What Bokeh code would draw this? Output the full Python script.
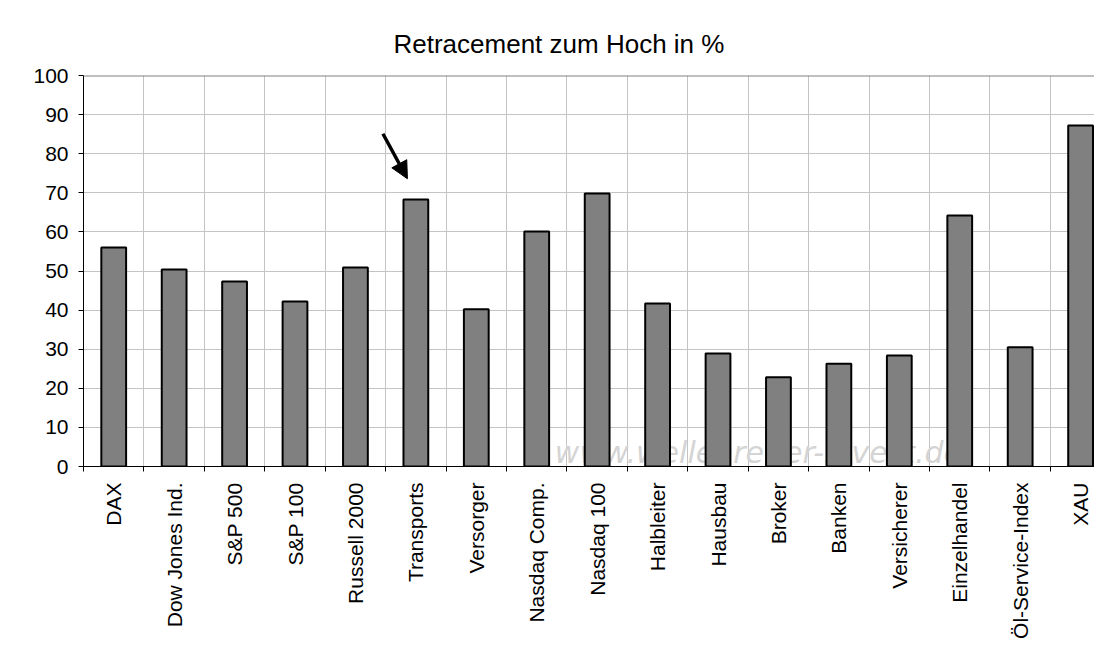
import math
from bokeh.plotting import figure
from bokeh.models import FixedTicker, Range1d, Arrow, NormalHead, Span
from bokeh.core.properties import value
from bokeh.embed import file_html
from bokeh.resources import INLINE

# ---- data ----
categories = ["DAX", "Dow Jones Ind.", "S&P 500", "S&P 100", "Russell 2000",
              "Transports", "Versorger", "Nasdaq Comp.", "Nasdaq 100", "Halbleiter",
              "Hausbau", "Broker", "Banken", "Versicherer", "Einzelhandel",
              "Öl-Service-Index", "XAU"]
values = [56.0, 50.4, 47.3, 42.2, 50.9, 68.3, 40.2, 60.1, 69.8, 41.7,
          28.9, 22.8, 26.3, 28.4, 64.2, 30.5, 87.2]
y_ticks = [0, 10, 20, 30, 40, 50, 60, 70, 80, 90, 100]
title_text = "Retracement zum Hoch in %"
watermark = "www.wellenreiter-invest.de"
highlight = "Transports"

FONT = "Liberation Sans"
n = len(categories)
xs = list(range(n))
boundaries = [i - 0.5 for i in range(n + 1)]

p = figure(width=1086, height=636, output_backend="svg", toolbar_location=None,
           x_range=Range1d(-0.5, 16.23), y_range=Range1d(0, 100),
           min_border_left=75, min_border_right=0, min_border_top=67,
           min_border_bottom=178)
p.styles = {"margin-left": "8px", "margin-top": "8px"}

p.title.text = title_text
p.title.align = "left"
p.title.offset = 310
p.title.standoff = 33
p.title.text_font = FONT
p.title.text_font_size = "26px"
p.title.text_font_style = "normal"
p.title.text_color = "black"

p.outline_line_color = None
p.background_fill_color = "white"
p.border_fill_color = "white"

# grids
p.xgrid.ticker = FixedTicker(ticks=boundaries)
p.ygrid.ticker = FixedTicker(ticks=y_ticks)
p.grid.grid_line_color = "#c4c4c4"
p.grid.grid_line_width = 1

# top edge of plot area
p.add_layout(Span(location=y_ticks[-1], dimension="width", line_color="#808080",
                  line_width=2))

# watermark (behind bars)
p.text(x=[7.3], y=[3.6], text=[watermark], text_font=value("DejaVu Sans"),
       text_font_style="italic", text_font_size="30px", text_color="#d4d4d4",
       text_baseline="alphabetic")

# bars
p.vbar(x=xs, top=values, width=0.41, bottom=0, fill_color="#808080",
       line_color="black", line_width=2)

# arrow pointing at highlighted bar
hi = categories.index(highlight)
hv = values[hi]
p.add_layout(Arrow(end=NormalHead(size=17, fill_color="black", line_color="black"),
                   x_start=hi - 0.545, y_start=hv + 16.8,
                   x_end=hi - 0.14, y_end=hv + 5.3,
                   line_width=3.5, line_color="black"))

# x axis
xa = p.xaxis[0]
xa.ticker = FixedTicker(ticks=xs, minor_ticks=boundaries)
xa.major_label_overrides = {i: c for i, c in enumerate(categories)}
xa.major_tick_out = 0
xa.major_tick_in = 0
xa.minor_tick_out = 5
xa.minor_tick_in = 0
xa.minor_tick_line_color = "black"
xa.axis_line_color = "black"
xa.major_label_orientation = math.pi / 2
xa.major_label_standoff = 11
xa.major_label_text_font = FONT
xa.major_label_text_font_size = "21px"
xa.major_label_text_color = "black"

# y axis
ya = p.yaxis[0]
ya.ticker = FixedTicker(ticks=y_ticks)
ya.major_tick_out = 5
ya.major_tick_in = 0
ya.minor_tick_out = 0
ya.minor_tick_in = 0
ya.major_tick_line_color = "black"
ya.axis_line_color = "black"
ya.major_label_standoff = 10
ya.major_label_text_font = FONT
ya.major_label_text_font_size = "21px"
ya.major_label_text_color = "black"

open("out.html", "w").write(file_html(p, INLINE))
